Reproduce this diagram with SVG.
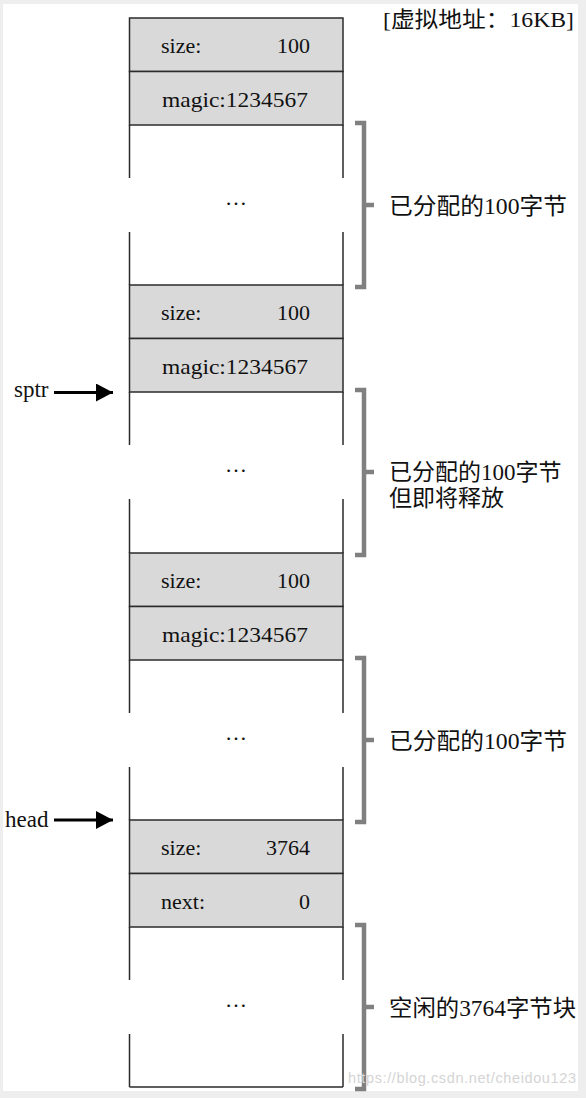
<svg xmlns="http://www.w3.org/2000/svg" width="586" height="1098" viewBox="0 0 586 1098">
<defs>
<style>
.hdr{fill:#d9d9d9;stroke:#2b2b2b;stroke-width:1.5}
.edge{stroke:#2b2b2b;stroke-width:1.5;fill:none}
.t{font-family:"Liberation Serif","Noto Sans CJK SC",serif;font-size:22px;fill:#111}
.lbl{font-family:"Liberation Serif","Noto Sans CJK SC",serif;font-size:23px;fill:#111}
.br{stroke:#808080;stroke-width:4.5;fill:none;stroke-linejoin:miter}
.conn{stroke:#000;stroke-width:3;fill:none}
</style>
<marker id="ah" markerUnits="userSpaceOnUse" markerWidth="20" markerHeight="20" refX="17" refY="9" orient="auto">
<path d="M0,0 L17,9 L0,18 Z" fill="#000"/>
</marker>
</defs>
<rect x="0" y="0" width="586" height="1098" fill="#eeeeee"/>
<rect x="3" y="4" width="575" height="1087" fill="#ffffff"/>

<text class="t" x="383" y="27" font-size="19" textLength="191" lengthAdjust="spacingAndGlyphs">[虚拟地址：16KB]</text>

<g id="block1">
<rect class="hdr" x="129.5" y="18" width="213.5" height="53.5"/>
<rect class="hdr" x="129.5" y="71.5" width="213.5" height="53.5"/>
<path class="edge" d="M129.5,125V178M129.5,232V285M343,125V178M343,232V285"/>
<text class="t" x="161" y="53">size:</text>
<text class="t" x="310" y="53" text-anchor="end">100</text>
<text class="t" x="162" y="107" textLength="146" lengthAdjust="spacingAndGlyphs">magic:1234567</text>
<text class="t" x="236" y="205" text-anchor="middle">…</text>
</g>

<g id="block2">
<rect class="hdr" x="129.5" y="285" width="213.5" height="53.5"/>
<rect class="hdr" x="129.5" y="338.5" width="213.5" height="53.5"/>
<path class="edge" d="M129.5,392V445M129.5,499V553M343,392V445M343,499V553"/>
<text class="t" x="161" y="320">size:</text>
<text class="t" x="310" y="320" text-anchor="end">100</text>
<text class="t" x="162" y="374" textLength="146" lengthAdjust="spacingAndGlyphs">magic:1234567</text>
<text class="t" x="236" y="472" text-anchor="middle">…</text>
</g>

<g id="block3">
<rect class="hdr" x="129.5" y="553" width="213.5" height="53.5"/>
<rect class="hdr" x="129.5" y="606.5" width="213.5" height="53.5"/>
<path class="edge" d="M129.5,660V713M129.5,767V820M343,660V713M343,767V820"/>
<text class="t" x="161" y="588">size:</text>
<text class="t" x="310" y="588" text-anchor="end">100</text>
<text class="t" x="162" y="642" textLength="146" lengthAdjust="spacingAndGlyphs">magic:1234567</text>
<text class="t" x="236" y="740" text-anchor="middle">…</text>
</g>

<g id="block4">
<rect class="hdr" x="129.5" y="820" width="213.5" height="53.5"/>
<rect class="hdr" x="129.5" y="873.5" width="213.5" height="53.5"/>
<path class="edge" d="M129.5,927V980M129.5,1034V1087M343,927V980M343,1034V1087M129.5,1087H343"/>
<text class="t" x="161" y="855">size:</text>
<text class="t" x="310" y="855" text-anchor="end">3764</text>
<text class="t" x="161" y="909">next:</text>
<text class="t" x="310" y="909" text-anchor="end">0</text>
<text class="t" x="236" y="1007" text-anchor="middle">…</text>
</g>

<g id="brace1">
<path class="br" d="M355,123H364V287H355M364,205H374"/>
<text class="lbl" x="389" y="213.5" textLength="178" lengthAdjust="spacingAndGlyphs">已分配的100字节</text>
</g>
<g id="brace2">
<path class="br" d="M355,390H364V555H355M364,472H374"/>
<text class="lbl" x="389" y="480">已分配的100字节</text>
<text class="lbl" x="389" y="506">但即将释放</text>
</g>
<g id="brace3">
<path class="br" d="M355,658H364V822H355M364,740H374"/>
<text class="lbl" x="389" y="748.5" textLength="178" lengthAdjust="spacingAndGlyphs">已分配的100字节</text>
</g>
<g id="brace4">
<path class="br" d="M355,925H364V1089H355M364,1007H374"/>
<text class="lbl" x="389" y="1015.5" textLength="187" lengthAdjust="spacingAndGlyphs">空闲的3764字节块</text>
</g>

<g id="ptr-sptr">
<text class="lbl" x="14" y="397">sptr</text>
</g>
<g id="ptr-head">
<text class="lbl" x="5" y="827">head</text>
</g>

<g id="connectors">
<path class="conn" d="M54,392.5H113" marker-end="url(#ah)"/>
<path class="conn" d="M54,820H113" marker-end="url(#ah)"/>
</g>

<text x="348" y="1083" font-family="Liberation Sans, Arial, sans-serif" font-size="14.5" fill="#d4d4d4" textLength="228">https://blog.csdn.net/cheidou123</text>
</svg>
